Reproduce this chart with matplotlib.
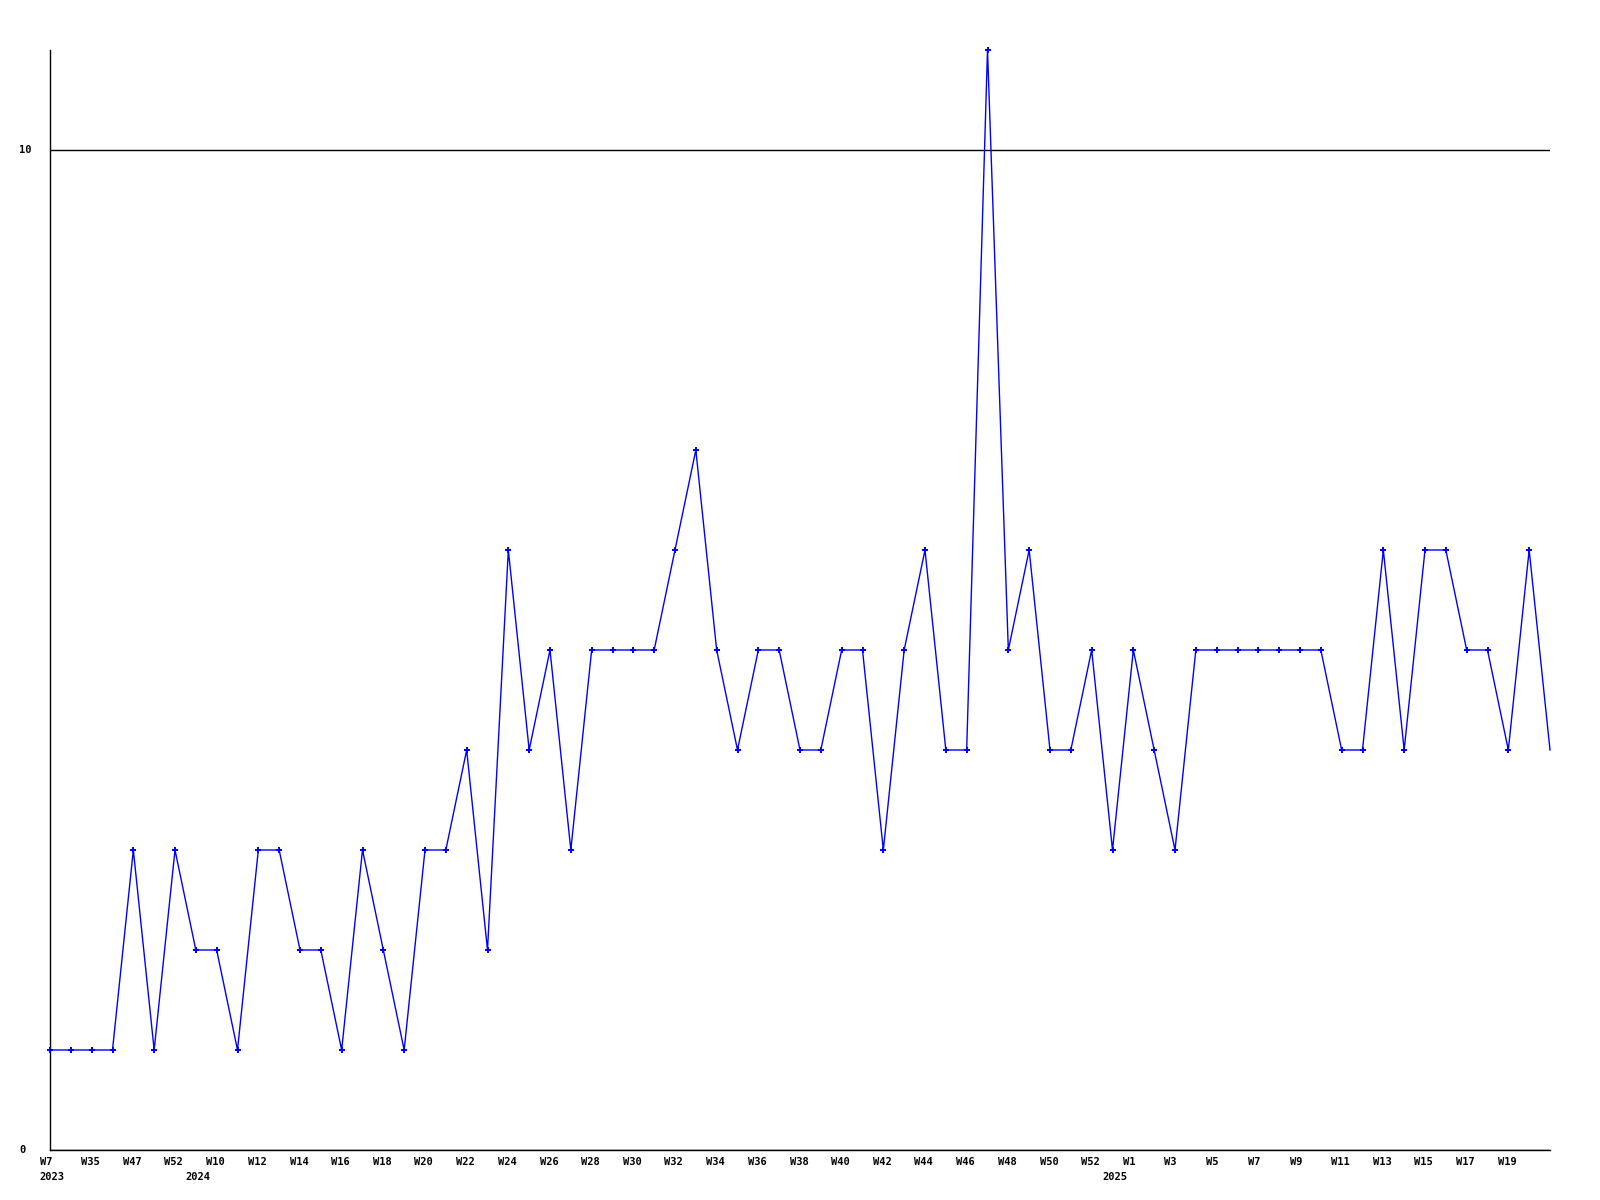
import matplotlib
matplotlib.use("Agg")
import matplotlib.pyplot as plt
import matplotlib.transforms as mtransforms


# Weekly counts, one value per point
values = [1, 1, 1, 1, 3, 1, 3, 2, 2, 1,
          3, 3, 2, 2, 1, 3, 2, 1, 3, 3,
          4, 2, 6, 4, 5, 3, 5, 5, 5, 5,
          6, 7, 5, 4, 5, 5, 4, 4, 5, 5,
          3, 5, 6, 4, 4, 11, 5, 6, 4, 4,
          5, 3, 5, 4, 3, 5, 5, 5, 5, 5,
          5, 5, 4, 4, 6, 4, 6, 6, 5, 5,
          4, 6, 4]

# Week labels shown on every second point
week_labels = ["W7", "W35", "W47", "W52", "W10", "W12", "W14", "W16", "W18",
               "W20", "W22", "W24", "W26", "W28", "W30", "W32", "W34", "W36",
               "W38", "W40", "W42", "W44", "W46", "W48", "W50", "W52", "W1",
               "W3", "W5", "W7", "W9", "W11", "W13", "W15", "W17", "W19"]
week_positions = list(range(0, 2 * len(week_labels), 2))

# Year labels and the point where each year starts
years = ["2023", "2024", "2025"]
year_positions = [0, 7, 51]

y_labels = ["0", "10"]
y_ticks = [0, 10]


x = list(range(len(values)))
blue = "#0000ff"
font = dict(family="DejaVu Sans Mono", weight="bold", size=7.5)

fig = plt.figure(figsize=(16, 12), dpi=100, facecolor="white")
ax = fig.add_axes([50 / 1600, 50 / 1200, 1500 / 1600, 1100 / 1200])

# Line and point markers (last point has no marker)
ax.plot(x, values, color=blue, linewidth=1.0, zorder=3, clip_on=False)
ax.plot(x[:-1], values[:-1], linestyle="none", marker="P", markersize=5,
        color=blue, markeredgewidth=0, zorder=4, clip_on=False)

ax.set_xlim(0, len(values) - 1)
ax.set_ylim(0, 11)

# Frame: only left and bottom
for side in ["top", "right"]:
    ax.spines[side].set_visible(False)
for side in ["left", "bottom"]:
    ax.spines[side].set_color("black")
    ax.spines[side].set_linewidth(1.0)

# Horizontal grid line at 10
ax.set_yticks(y_ticks)
ax.set_yticklabels([])
ax.yaxis.grid(True, color="black", linewidth=1.0)
ax.set_axisbelow(True)
ax.tick_params(axis="y", length=0)

shift = mtransforms.ScaledTranslation(-10.5 / 100, 0, fig.dpi_scale_trans)

# Week tick labels, left aligned slightly before each point
ax.set_xticks(week_positions)
ax.set_xticklabels(week_labels, **font)
ax.tick_params(axis="x", length=0, pad=5)
for lab in ax.get_xticklabels():
    lab.set_horizontalalignment("left")
    lab.set_transform(lab.get_transform() + shift)

# Year labels under the week labels
year_tr = mtransforms.blended_transform_factory(ax.transData, fig.transFigure)
for pos, yr in zip(year_positions, years):
    ax.text(pos, 1 - 1177 / 1200, yr, transform=year_tr + shift,
            ha="left", va="center", **font)

# Y labels drawn at the far left
ylab_tr = mtransforms.blended_transform_factory(fig.transFigure, ax.transData)
for val, txt in zip(y_ticks, y_labels):
    ax.text(19 / 1600, val, txt, transform=ylab_tr, ha="left", va="center",
            **font)

fig.savefig("out.png", dpi=100, facecolor="white")
